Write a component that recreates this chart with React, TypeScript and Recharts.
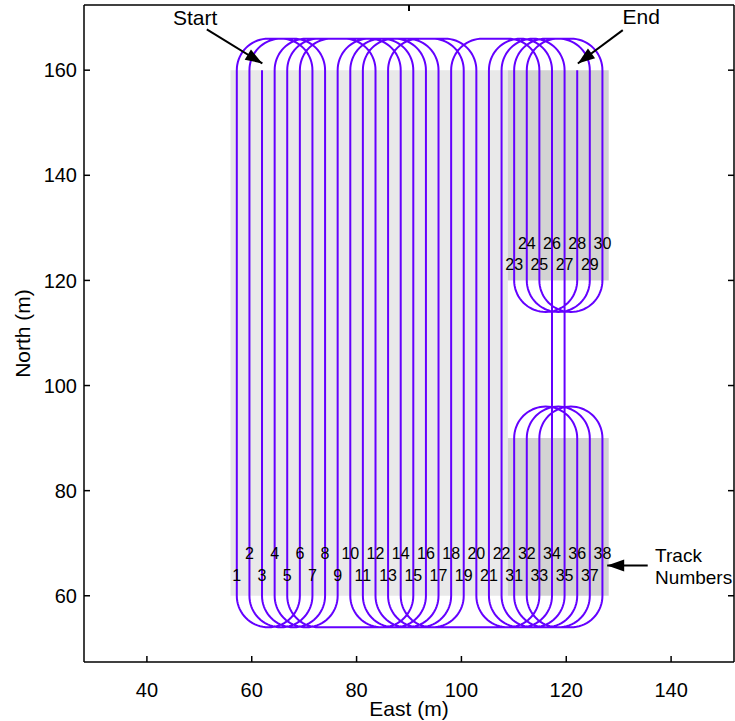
import React from 'react';
import { ComposedChart, Line, XAxis, YAxis, ReferenceArea, Scatter } from 'recharts';

// East position (m) of each survey lane, west to east
const laneEast = [
  57.15, 59.56, 61.96, 64.37, 66.77, 69.18, 71.58, 73.99, 76.39, 78.8,
  81.2, 83.61, 86.01, 88.42, 90.82, 93.23, 95.63, 98.04, 100.44, 102.85,
  105.25, 107.66, 110.06, 112.47, 114.87, 117.28, 119.68, 122.09, 124.49, 126.9,
];

// Survey tracks: number, lane, south end and north end (m)
const trackNumber = [
  1, 2, 3, 4, 5, 6, 7, 8, 9, 10, 11, 12, 13, 14, 15, 16, 17, 18, 19, 20, 21, 22,
  23, 24, 25, 26, 27, 28, 29, 30,
  31, 32, 33, 34, 35, 36, 37, 38,
];
const trackLane = [
  0, 1, 2, 3, 4, 5, 6, 7, 8, 9, 10, 11, 12, 13, 14, 15, 16, 17, 18, 19, 20, 21,
  22, 23, 24, 25, 26, 27, 28, 29,
  22, 23, 24, 25, 26, 27, 28, 29,
];
const trackSouth = [
  60, 60, 60, 60, 60, 60, 60, 60, 60, 60, 60, 60, 60, 60, 60, 60, 60, 60, 60, 60, 60, 60,
  120, 120, 120, 120, 120, 120, 120, 120,
  60, 60, 60, 60, 60, 60, 60, 60,
];
const trackNorth = [
  160, 160, 160, 160, 160, 160, 160, 160, 160, 160, 160, 160, 160, 160, 160, 160, 160, 160, 160, 160, 160, 160,
  160, 160, 160, 160, 160, 160, 160, 160,
  90, 90, 90, 90, 90, 90, 90, 90,
];

// Order in which the vehicle runs the tracks (first one is entered from its north end)
const routeOrder = [
  3, 8, 2, 7, 1, 6, 12, 17, 11, 16, 10, 15, 9, 4, 20, 34, 26, 21, 35, 27,
  22, 36, 31, 37, 32, 38, 33, 5, 14, 19, 13, 18, 25, 30, 24, 29, 23, 28,
];
const turnRadius = 6;

// Survey blocks (m)
const blockWest = [55.95, 108.86, 108.86];
const blockEast = [108.86, 128.1, 128.1];
const blockSouth = [60, 120, 60];
const blockNorth = [160, 160, 90];
const blockFill = ['#e9e9e9', '#d3d3d3', '#d3d3d3'];

const xTicks = [40, 60, 80, 100, 120, 140];
const yTicks = [60, 80, 100, 120, 140, 160];
const xDomain: [number, number] = [28, 152];
const yDomain: [number, number] = [47.4, 172.4];

const PATH = '#6400ff';
const FONT = '"Liberation Sans", Arial, Helvetica, sans-serif';

type Pt = { x: number; y: number };

function trackIndex(n: number) {
  return trackNumber.indexOf(n);
}

// Two quarter turns of the vehicle's turning circle joined by a straight leg
function turnArc(xa: number, xb: number, level: number, dir: number): Pt[] {
  const s = xb > xa ? 1 : -1;
  const rx = Math.min(turnRadius, Math.abs(xb - xa) / 2);
  const pts: Pt[] = [];
  const n = 18;
  const c1 = xa + s * rx;
  const c2 = xb - s * rx;
  for (let i = 1; i <= n; i++) {
    const t = (Math.PI / 2) * (i / n);
    pts.push({ x: c1 - s * rx * Math.cos(t), y: level + dir * turnRadius * Math.sin(t) });
  }
  for (let i = 0; i < n; i++) {
    const t = Math.PI / 2 - (Math.PI / 2) * (i / n);
    pts.push({ x: c2 + s * rx * Math.cos(t), y: level + dir * turnRadius * Math.sin(t) });
  }
  return pts;
}

function buildRoute(): Pt[] {
  const pts: Pt[] = [];
  let y = 0;
  let px = 0;
  let plane = -1;
  let north = false;
  routeOrder.forEach((num, i) => {
    const t = trackIndex(num);
    const lane = trackLane[t];
    const x = laneEast[lane];
    const s = trackSouth[t];
    const n = trackNorth[t];
    let from: number;
    if (i === 0) {
      from = n;
    } else {
      from = Math.abs(s - y) <= Math.abs(n - y) ? s : n;
      if (lane !== plane) pts.push(...turnArc(px, x, y, north ? 1 : -1));
    }
    const to = from === s ? n : s;
    pts.push({ x, y: from }, { x, y: to });
    north = to > from;
    y = to;
    px = x;
    plane = lane;
  });
  return pts;
}

const routePoints = buildRoute();

// Track number labels, staggered in two rows
const labelRowEven = { block: 68.0, upper: 127.1 };
const labelRowOdd = { block: 63.8, upper: 123.0 };
const trackLabels = trackNumber.map((n, i) => {
  const upper = trackSouth[i] === 120;
  const even = n % 2 === 0;
  const y = upper
    ? (even ? labelRowEven.upper : labelRowOdd.upper)
    : (even ? labelRowEven.block : labelRowOdd.block);
  return { x: laneEast[trackLane[i]], y, n };
});

// Annotation arrows: tail and tip (m)
const arrows = [
  { tailX: 51.43, tailY: 167.75, x: 62.02, y: 161.28 },
  { tailX: 130.78, tailY: 167.62, x: 122.21, y: 161.28 },
  { tailX: 135.54, tailY: 65.77, x: 127.81, y: 65.77 },
];
const notes = [
  { x: 49.2, y: 168.6, text: 'Start', anchor: 'middle', size: 21 },
  { x: 134.3, y: 168.7, text: 'End', anchor: 'middle', size: 21 },
  { x: 136.95, y: 66.5, text: 'Track', anchor: 'start', size: 19 },
  { x: 136.95, y: 62.2, text: 'Numbers', anchor: 'start', size: 19 },
];

const LabelShape = (props: any) => (
  <text
    x={props.cx}
    y={props.cy}
    textAnchor="middle"
    dominantBaseline="central"
    fontFamily={FONT}
    fontSize={16}
    fill="#000"
  >
    {props.payload.n}
  </text>
);

const NoteShape = (props: any) => (
  <text
    x={props.cx}
    y={props.cy}
    textAnchor={props.payload.anchor}
    fontFamily={FONT}
    fontSize={props.payload.size}
    fill="#000"
  >
    {props.payload.text}
  </text>
);

const ArrowHead = (props: any) => {
  const p = props.payload;
  const dx = p.tailX - p.x;
  const dy = -(p.tailY - p.y);
  const len = Math.hypot(dx, dy);
  const ux = dx / len;
  const uy = dy / len;
  const L = 17;
  const W = 6;
  const bx = props.cx + ux * L;
  const by = props.cy + uy * L;
  const pts = `${props.cx},${props.cy} ${bx - uy * W},${by + ux * W} ${bx + uy * W},${by - ux * W}`;
  return <polygon points={pts} fill="#000" />;
};

const tickStyle = { fill: '#000', fontSize: 20, fontFamily: FONT };

export default function App() {
  return (
    <div style={{ position: 'absolute', left: 0, top: 0, background: '#fff' }}>
      <ComposedChart width={735} height={721} margin={{ top: 4, right: 0, bottom: 0, left: 0 }}>
        <XAxis
          dataKey="x"
          type="number"
          domain={xDomain}
          ticks={xTicks}
          allowDataOverflow
          height={59}
          tickSize={-6}
          tickMargin={27}
          stroke="#000"
          strokeWidth={1.5}
          tick={tickStyle}
          label={{ value: 'East (m)', position: 'insideBottom', offset: 5, fill: '#000', fontSize: 21, fontFamily: FONT }}
        />
        <XAxis
          xAxisId="top"
          orientation="top"
          type="number"
          domain={xDomain}
          ticks={xTicks}
          allowDataOverflow
          height={1}
          tickSize={-6}
          stroke="#000"
          strokeWidth={1.5}
          tickFormatter={() => ''}
        />
        <YAxis
          dataKey="y"
          type="number"
          domain={yDomain}
          ticks={yTicks}
          allowDataOverflow
          width={84}
          tickSize={-6}
          tickMargin={13}
          stroke="#000"
          strokeWidth={1.5}
          tick={tickStyle}
          label={{ value: 'North (m)', angle: -90, position: 'insideLeft', offset: 23, fill: '#000', fontSize: 21, fontFamily: FONT, style: { textAnchor: 'middle' } }}
        />
        <YAxis
          yAxisId="right"
          orientation="right"
          type="number"
          domain={yDomain}
          ticks={yTicks}
          allowDataOverflow
          width={1}
          tickSize={-6}
          stroke="#000"
          strokeWidth={1.5}
          tickFormatter={() => ''}
        />
        {blockWest.map((w, i) => (
          <ReferenceArea
            key={`blk${i}`}
            x1={w}
            x2={blockEast[i]}
            y1={blockSouth[i]}
            y2={blockNorth[i]}
            fill={blockFill[i]}
            fillOpacity={1}
            stroke="none"
            ifOverflow="visible"
          />
        ))}
        <Line
          data={routePoints}
          dataKey="y"
          type="linear"
          stroke={PATH}
          strokeWidth={2}
          strokeLinejoin="round"
          dot={false}
          activeDot={false}
          isAnimationActive={false}
        />
        <Line
          xAxisId="top"
          yAxisId="right"
          data={[{ x: 100, y: 100 }]}
          dataKey="y"
          stroke="none"
          dot={false}
          activeDot={false}
          isAnimationActive={false}
        />
        {arrows.map((a, i) => (
          <Line
            key={`arr${i}`}
            data={[{ x: a.tailX, y: a.tailY }, { x: a.x, y: a.y }]}
            dataKey="y"
            stroke="#000"
            strokeWidth={2}
            dot={false}
            activeDot={false}
            isAnimationActive={false}
          />
        ))}
        <Scatter data={arrows} dataKey="y" shape={ArrowHead} isAnimationActive={false} />
        <Scatter data={trackLabels} dataKey="y" shape={LabelShape} isAnimationActive={false} />
        <Scatter data={notes} dataKey="y" shape={NoteShape} isAnimationActive={false} />
      </ComposedChart>
    </div>
  );
}
